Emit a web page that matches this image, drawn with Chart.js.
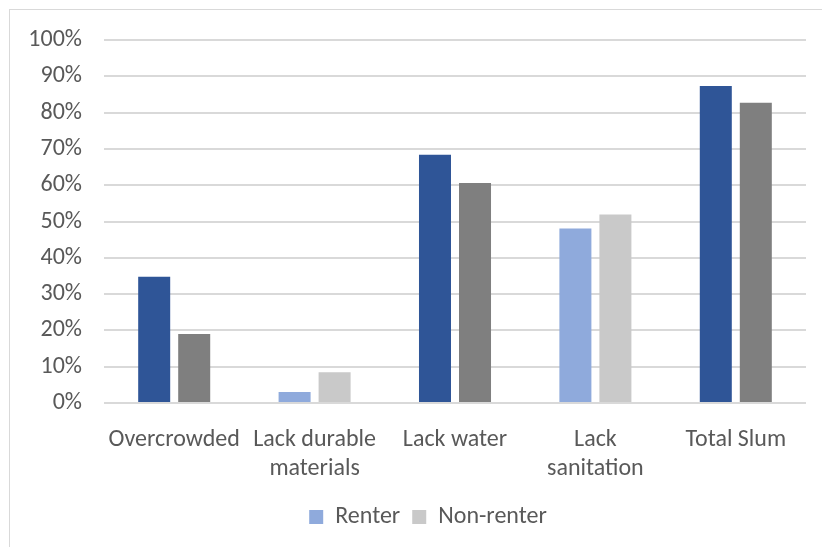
<!DOCTYPE html>
<html>
<head>
<meta charset="utf-8">
<script src="https://cdn.jsdelivr.net/npm/chart.js@4"></script>
<style>
  html, body { margin: 0; padding: 0; background: #fff; overflow: hidden; }
  #wrap { position: relative; width: 822px; height: 547px; }
  #frame { position: absolute; left: 9px; top: 9px; width: 900px; height: 600px; border: 1px solid #d9d9d9; }
  canvas { position: absolute; left: 0; top: 0; }
</style>
</head>
<body>
<div id="wrap">
  <div id="frame"></div>
  <canvas id="myChart" width="822" height="547"></canvas>
</div>
<script>
const categories = ["Overcrowded", ["Lack durable", "materials"], "Lack water", ["Lack", "sanitation"], "Total Slum"]
const renter = [34.8, 3.0, 68.4, 48.1, 87.3]
const nonRenter = [19.0, 8.5, 60.6, 51.9, 82.7]
// light colour = difference not significant
const significant = [true, false, true, false, true]
const yTicks = [0, 10, 20, 30, 40, 50, 60, 70, 80, 90, 100]

const blue = "#2F5597", lightBlue = "#8FAADC"
const grey = "#7F7F7F", lightGrey = "#C9C9C9"
const fontFamily = "Carlito, Lato, sans-serif"
const textColor = "#595959"

// nudge the legend a bit to the right, like the original
const legendShift = {
  id: 'legendShift',
  afterLayout: chart => {
    chart.legend.left += 25
    chart.legend.right += 25
  }
}

const ctx = document.getElementById('myChart').getContext('2d')
const myChart = new Chart(ctx, {
  type: 'bar',
  data: {
    labels: categories,
    datasets: [{
      label: 'Renter',
      data: renter,
      backgroundColor: significant.map(s => s ? blue : lightBlue),
      legendColor: lightBlue,
      borderWidth: 0
    }, {
      label: 'Non-renter',
      data: nonRenter,
      backgroundColor: significant.map(s => s ? grey : lightGrey),
      legendColor: lightGrey,
      borderWidth: 0
    }]
  },
  plugins: [legendShift],
  options: {
    responsive: false,
    animation: false,
    categoryPercentage: 0.57,
    barPercentage: 0.8,
    layout: { padding: { top: 40, right: 16, bottom: 8, left: 0 } },
    plugins: {
      tooltip: { enabled: false },
      legend: {
        position: 'bottom',
        labels: {
          font: { family: fontFamily, size: 24 },
          color: textColor,
          boxWidth: 14,
          boxHeight: 14,
          padding: 12,
          generateLabels: chart => chart.data.datasets.map((ds, i) => ({
            text: ds.label,
            fillStyle: ds.legendColor,
            strokeStyle: ds.legendColor,
            lineWidth: 0,
            fontColor: textColor,
            datasetIndex: i
          }))
        }
      }
    },
    scales: {
      x: {
        grid: { display: false },
        border: { display: false },
        ticks: {
          font: { family: fontFamily, size: 24 },
          color: textColor,
          maxRotation: 0,
          autoSkip: false,
          padding: 15
        },
        afterFit: scale => { scale.height = 90 }
      },
      y: {
        min: 0,
        max: 100,
        afterBuildTicks: scale => { scale.ticks = yTicks.map(v => ({ value: v })) },
        grid: { color: "#d9d9d9", lineWidth: 2, drawTicks: false },
        border: { display: false },
        ticks: {
          font: { family: fontFamily, size: 24 },
          color: textColor,
          padding: 22,
          callback: v => v + '%'
        },
        afterFit: scale => { scale.width = 104 }
      }
    }
  }
})
</script>
</body>
</html>
